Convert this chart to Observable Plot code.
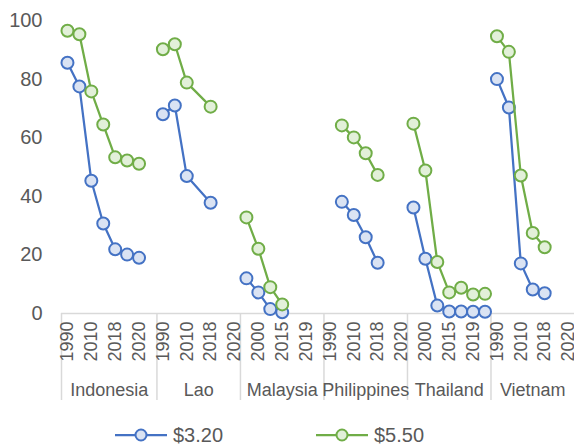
<!DOCTYPE html>
<html><head><meta charset="utf-8">
<script src="https://cdn.jsdelivr.net/npm/d3@7"></script>
<script src="https://cdn.jsdelivr.net/npm/@observablehq/plot@0.6"></script>
<style>
body{margin:0;background:#fff;font-family:"Liberation Sans",Arial,sans-serif;}
#legend{position:relative;height:40px;width:574px;}
.item{position:absolute;top:0;height:40px;display:flex;align-items:center;font-size:20px;color:#595959;}
.item svg{margin-right:6px;}
</style></head><body>
<div id="chart"></div>
<div id="legend"></div>
<script>
const countries = ["Indonesia", "Lao", "Malaysia", "Philippines", "Thailand", "Vietnam"];
const categoryYears = [
  ["1990", "2000", "2010", "2015", "2018", "2019", "2020", "2021"],
  ["1990", "2000", "2010", "2015", "2018", "2019", "2020"],
  ["1990", "2000", "2010", "2015", "2018", "2019", "2020"],
  ["1990", "2000", "2010", "2015", "2018", "2019", "2020"],
  ["1990", "2000", "2010", "2015", "2018", "2019", "2020"],
  ["1990", "2000", "2010", "2015", "2018", "2019", "2020"]
];
const seriesNames = ["$3.20", "$5.50"];
const usd320 = [
  [85.6, 77.5, 45.3, 30.7, 21.9, 20.1, 19.0, null],
  [68.0, 71.0, 46.9, null, 37.8, null, null],
  [12.0, 7.2, 1.5, 0.4, null, null, null],
  [null, 38.1, 33.6, 26.0, 17.3, null, null],
  [36.2, 18.7, 2.7, 0.7, 0.7, 0.6, 0.6],
  [80.0, 70.3, 17.1, 8.2, 6.9, null, null]
];
const usd550 = [
  [96.5, 95.3, 75.8, 64.5, 53.3, 52.2, 51.1, null],
  [90.2, 91.9, 78.8, null, 70.6, null, null],
  [32.8, 22.1, 9.0, 3.1, null, null, null],
  [null, 64.2, 60.1, 54.7, 47.3, null, null],
  [64.8, 48.8, 17.6, 7.2, 8.8, 6.5, 6.7],
  [94.6, 89.3, 47.1, 27.5, 22.6, null, null]
];
const yTicks = [0, 20, 40, 60, 80, 100];
const colors = ["#4472C4", "#70AD47"];
const fills = ["#DAE3F3", "#E2F0D9"];

// build table
const rows = [];
const boundaries = [];
const centers = [];
let idx = 0;
countries.forEach((c, ci) => {
  boundaries.push(idx);
  const start = idx;
  categoryYears[ci].forEach((yr, j) => {
    rows.push({country: c, year: yr, i: idx, x: idx + 0.5, v320: usd320[ci][j], v550: usd550[ci][j]});
    idx++;
  });
  centers.push({x: (start + idx) / 2, label: c});
});
boundaries.push(idx);
const total = idx;
const yearLabel = new Map(rows.map(d => [d.x, d.year]));
const labeledX = rows.filter(d => d.i % 2 === 0).map(d => d.x);
const countryLabel = new Map(centers.map(d => [d.x, d.label]));

const txt = "#595959";
const chart = Plot.plot({
  width: 574, height: 415,
  marginTop: 20, marginBottom: 102, marginLeft: 61, marginRight: 0,
  x: {type: "linear", domain: [0, total], axis: null, label: null},
  y: {domain: [0, 100], axis: null, label: null},
  style: {fontFamily: "'Liberation Sans', Arial, sans-serif", color: txt, background: "#fff", overflow: "visible"},
  marks: [
    Plot.axisY({ticks: yTicks, tickSize: 0, tickPadding: 19, fontSize: 20, fill: txt, label: null}),
    Plot.ruleY([0], {stroke: "#d9d9d9", strokeWidth: 1.5}),
    Plot.axisX({ticks: boundaries.slice(0, -1), tickSize: 87, tickFormat: () => "", stroke: "#d9d9d9", strokeWidth: 1.5, label: null}),
    Plot.axisX({ticks: labeledX, tickFormat: d => yearLabel.get(d), tickRotate: -90, tickSize: 0, tickPadding: 8, fontSize: 18, fill: txt, label: null}),
    Plot.axisX({ticks: centers.map(d => d.x), tickFormat: d => countryLabel.get(d), tickSize: 0, tickPadding: 70, fontSize: 18, fill: txt, label: null}),
    Plot.line(rows.filter(d => d.v320 != null), {x: "x", y: "v320", z: "country", stroke: colors[0], strokeWidth: 2.25}),
    Plot.dot(rows.filter(d => d.v320 != null), {x: "x", y: "v320", r: 6, fill: fills[0], stroke: colors[0], strokeWidth: 2}),
    Plot.line(rows.filter(d => d.v550 != null), {x: "x", y: "v550", z: "country", stroke: colors[1], strokeWidth: 2.25}),
    Plot.dot(rows.filter(d => d.v550 != null), {x: "x", y: "v550", r: 6, fill: fills[1], stroke: colors[1], strokeWidth: 2})
  ]
});
document.getElementById("chart").appendChild(chart);

const legend = document.getElementById("legend");
const lefts = [115, 316];
seriesNames.forEach((name, k) => {
  const it = document.createElement("div");
  it.className = "item";
  it.style.left = lefts[k] + "px";
  it.innerHTML = `<svg width="52" height="16"><line x1="0" y1="8" x2="52" y2="8" stroke="${colors[k]}" stroke-width="2.25"/><circle cx="26" cy="8" r="5.5" fill="${fills[k]}" stroke="${colors[k]}" stroke-width="2"/></svg><span>${name}</span>`;
  legend.appendChild(it);
});
</script>
</body></html>
